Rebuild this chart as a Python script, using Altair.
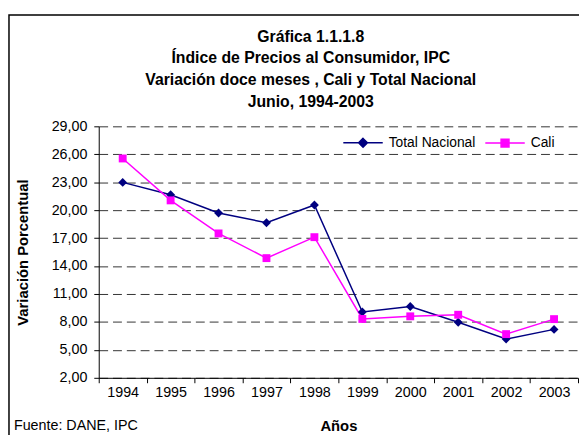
import altair as alt
import pandas as pd

years = ["1994", "1995", "1996", "1997", "1998", "1999", "2000", "2001", "2002", "2003"]
total_nacional = [22.98, 21.65, 19.70, 18.65, 20.55, 9.06, 9.65, 7.96, 6.16, 7.20]
cali = [25.55, 21.05, 17.50, 14.85, 17.10, 8.32, 8.60, 8.77, 6.69, 8.30]
series_names = ["Total Nacional", "Cali"]
series_colors = ["#000080", "#FF00FF"]
series_shapes = ["diamond", "square"]
series_sizes = [81, 64]
legend_paths = [
    "M-1,0H1M0,-0.225L0.225,0L0,0.225L-0.225,0Z",
    "M-1,0H1M-0.2,-0.2H0.2V0.2H-0.2Z",
]
y_ticks = [2, 5, 8, 11, 14, 17, 20, 23, 26, 29]
title_lines = [
    "Gráfica 1.1.1.8",
    "Índice de Precios al Consumidor, IPC",
    "Variación doce meses , Cali y Total Nacional",
    "Junio, 1994-2003",
]
source_note = "Fuente: DANE, IPC"

rows = []
for name, vals in zip(series_names, [total_nacional, cali]):
    for yr, v in zip(years, vals):
        rows.append({"year": yr, "value": v, "series": name})
df = pd.DataFrame(rows)

FONT = "Liberation Sans"

x_enc = alt.X(
    "year:N",
    scale=alt.Scale(type="band", domain=years, paddingInner=0, paddingOuter=0),
    axis=alt.Axis(
        title="Años", labelAngle=0, tickBand="extent", tickSize=5, tickColor="black",
        domainColor="black", labelColor="black", labelFont=FONT, labelFontSize=14.5,
        labelPadding=3, grid=False, titleFont=FONT, titleFontSize=15,
        titleFontWeight="bold", titleColor="black", titleY=53, titleBaseline="alphabetic",
    ),
)
y_enc = alt.Y(
    "value:Q",
    scale=alt.Scale(domain=[2, 29], nice=False, zero=False),
    axis=alt.Axis(
        title="Variación Porcentual", values=y_ticks,
        labelExpr="replace(format(datum.value, '.2f'), '.', ',')",
        grid=True, gridDash=[9, 5], gridColor="#333333", gridWidth=1,
        tickSize=5, tickColor="black", domainColor="black", labelColor="black",
        labelFont=FONT, labelFontSize=14.5, labelPadding=7,
        titleFont=FONT, titleFontSize=15, titleFontWeight="bold", titleColor="black",
        titleX=-72, titleY=127.5, titleAngle=270, titleAlign="center",
        titleBaseline="alphabetic",
    ),
)

layers = []
for name, color in zip(series_names, series_colors):
    layers.append(
        alt.Chart(df).transform_filter(alt.datum.series == name)
        .mark_line(color=color, strokeWidth=1.5)
        .encode(x=x_enc, y=y_enc)
    )
for name, color, shape, size in zip(series_names, series_colors, series_shapes, series_sizes):
    layers.append(
        alt.Chart(df).transform_filter(alt.datum.series == name)
        .mark_point(filled=True, opacity=1, color=color, shape=shape, size=size)
        .encode(x=x_enc, y=y_enc)
    )

leg = alt.Legend(
    title=None, orient="none", legendX=247, legendY=-4.5, direction="horizontal",
    symbolSize=1600, labelOffset=5, columnPadding=7, padding=0,
    labelFont=FONT, labelFontSize=14, labelColor="black", symbolStrokeWidth=1.5,
)
legend_layer = (
    alt.Chart(df).transform_filter("false")
    .mark_point(filled=True, opacity=1)
    .encode(
        x=x_enc, y=y_enc,
        color=alt.Color("series:N", scale=alt.Scale(domain=series_names, range=series_colors), legend=leg),
        stroke=alt.Stroke("series:N", scale=alt.Scale(domain=series_names, range=series_colors), legend=leg),
        shape=alt.Shape("series:N", scale=alt.Scale(domain=series_names, range=legend_paths), legend=leg),
    )
)
layers.append(legend_layer)

frame = (
    alt.Chart(pd.DataFrame({"k": [0]}))
    .mark_rect(fillOpacity=0, stroke="black", strokeWidth=1.5)
    .encode(x=alt.value(-91), x2=alt.value(700), y=alt.value(-113), y2=alt.value(400))
)
note = (
    alt.Chart(pd.DataFrame({"k": [0]}))
    .mark_text(align="left", baseline="alphabetic", font=FONT, fontSize=14.5, color="black")
    .encode(x=alt.value(-86), y=alt.value(308), text=alt.value(source_note))
)

chart = (
    alt.layer(frame, *layers, note)
    .properties(
        width=486, height=255,
        title=alt.TitleParams(
            text=title_lines, font=FONT, fontSize=16, fontWeight="bold", color="black",
            anchor="middle", frame="group", dx=-28, offset=-110, lineHeight=22,
            baseline="alphabetic",
        ),
        autosize=alt.AutoSizeParams(type="none"),
        padding={"left": 92, "top": 117, "right": 1, "bottom": 55},
        background="white",
    )
    .configure_view(stroke=None)
)

chart.save("out.html", embed_options={"renderer": "svg", "actions": False})
